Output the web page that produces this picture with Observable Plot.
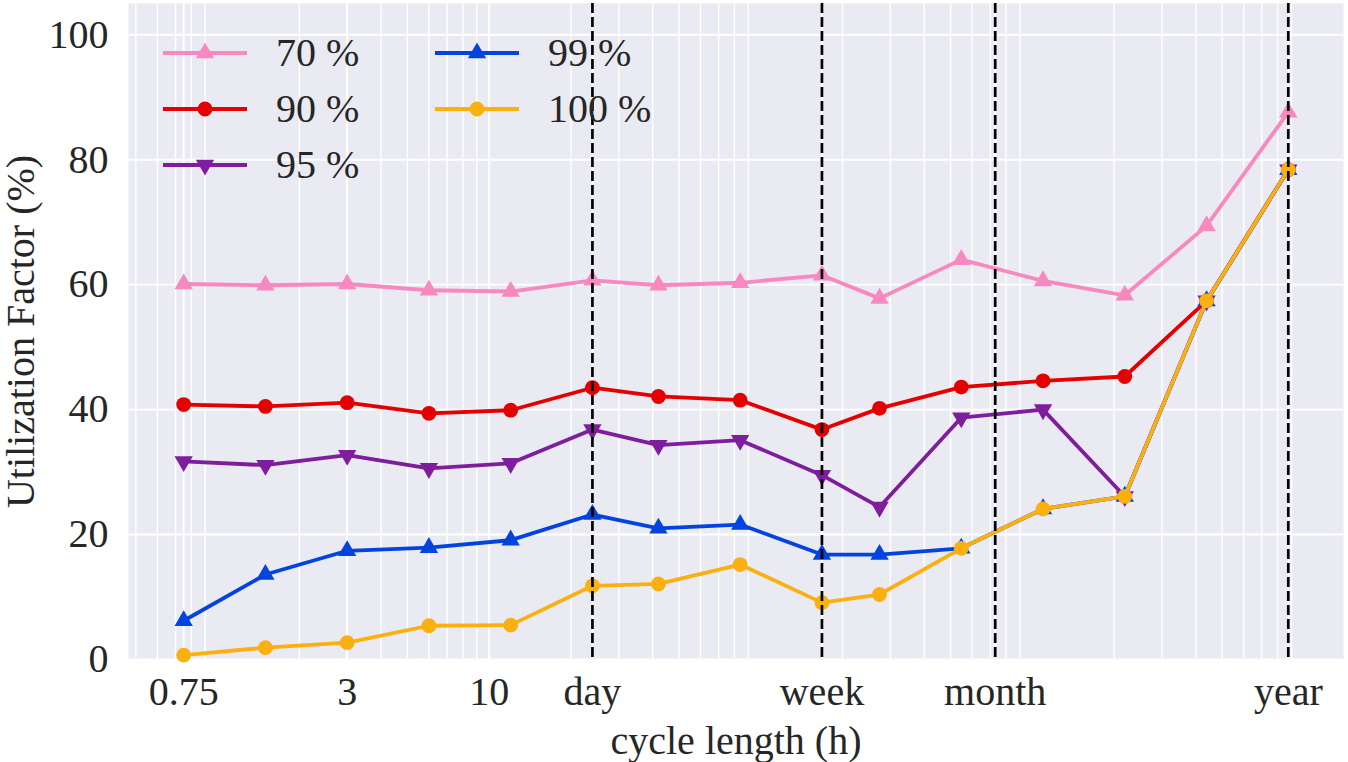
<!DOCTYPE html>
<html>
<head>
<meta charset="utf-8">
<script src="https://cdn.jsdelivr.net/npm/d3@7"></script>
<script src="https://cdn.jsdelivr.net/npm/@observablehq/plot@0.6"></script>
<style>
  html, body { margin: 0; padding: 0; background: #ffffff; }
  #wrap { position: relative; width: 1348px; height: 762px; font-family: "Liberation Serif", serif; color: #262626; }
  #legend { position: absolute; left: 0; top: 0; }
  .item { position: absolute; display: flex; align-items: center; font-size: 40px; line-height: 1; white-space: nowrap; }
  .item svg { display: block; margin-right: 28px; flex: none; }
</style>
</head>
<body>
<div id="wrap">
  <div id="chart"></div>
  <div id="legend"></div>
</div>
<script>
// Cycle length of each experiment, in hours (0.75 h up to one year)
const cycleHours = [0.75, 1.5, 3, 6, 12, 24, 42, 84, 168, 273.75, 547.5, 1095, 2190, 4380, 8760];

// Utilization factor (%) per target level
const util70  = [60.1, 59.9, 60.1, 59.1, 58.9, 60.7, 59.9, 60.3, 61.5, 57.8, 64.0, 60.6, 58.3, 69.4, 87.6];
const util90  = [40.8, 40.5, 41.1, 39.4, 39.9, 43.5, 42.1, 41.5, 36.8, 40.2, 43.6, 44.6, 45.3, 57.4, 78.4];
const util95  = [31.7, 31.1, 32.7, 30.6, 31.4, 36.8, 34.3, 35.1, 29.5, 24.4, 38.7, 40.0, 26.1, 57.4, 78.4];
const util99  = [6.2, 13.6, 17.4, 17.9, 19.1, 23.2, 21.0, 21.6, 16.8, 16.8, 17.8, 24.1, 26.1, 57.4, 78.4];
const util100 = [0.7, 1.9, 2.7, 5.4, 5.5, 11.8, 12.1, 15.2, 9.1, 10.4, 17.8, 24.1, 26.1, 57.4, 78.4];

// Named x ticks and the calendar periods marked with dashed lines
const tickHours  = [0.75, 3, 10, 24, 168, 730, 8760];
const tickLabels = ["0.75", "3", "10", "day", "week", "month", "year"];
const periodHours = [24, 168, 730, 8760];
const yTicks = [0, 20, 40, 60, 80, 100];

const seriesNames = ["70 %", "90 %", "95 %", "99 %", "100 %"];
const seriesValues = [util70, util90, util95, util99, util100];
const seriesColors = ["#f788c0", "#e50000", "#7e1e9c", "#0343df", "#fbb012"];

// Triangle pointing downwards (mirror of d3.symbolTriangle)
const sqrt3 = Math.sqrt(3);
const triangleDown = {
  draw(context, size) {
    const y = Math.sqrt(size / (sqrt3 * 3));
    context.moveTo(0, y * 2);
    context.lineTo(-sqrt3 * y, -y);
    context.lineTo(sqrt3 * y, -y);
    context.closePath();
  }
};
const seriesSymbols = ["triangle", "circle", triangleDown, "triangle", "circle"];
const seriesRadius = [6.8, 7.4, 6.8, 6.8, 7.4];

const xDomain = [0.4698, 13990];

// Minor log gridlines (2..9 of each decade)
const minorGrid = d3.scaleLog().domain(xDomain).ticks()
  .filter(v => Math.abs(Math.log10(v) - Math.round(Math.log10(v))) > 1e-9);

const marks = [
  Plot.frame({fill: "#eaeaf2", stroke: "none"}),
  Plot.ruleX(minorGrid, {stroke: "#ffffff", strokeWidth: 1.4}),
  Plot.ruleX(tickHours, {stroke: "#ffffff", strokeWidth: 1.9}),
  Plot.ruleY(yTicks, {stroke: "#ffffff", strokeWidth: 1.9})
];

seriesValues.forEach((vals, k) => {
  const rows = cycleHours.map((h, i) => ({h, v: vals[i]}));
  marks.push(Plot.line(rows, {x: "h", y: "v", stroke: seriesColors[k], strokeWidth: 3.8}));
  marks.push(Plot.dot(rows, {x: "h", y: "v", fill: seriesColors[k], stroke: "none",
    symbol: seriesSymbols[k], r: seriesRadius[k]}));
});

marks.push(Plot.ruleX(periodHours, {stroke: "#000000", strokeWidth: 2.7, strokeDasharray: "10,4"}));

// x tick labels (named periods) below the panel
marks.push(Plot.text(tickHours, {
  x: d => d, text: (d, i) => tickLabels[i],
  frameAnchor: "bottom", lineAnchor: "top", dy: 17, fontSize: 40, fill: "#262626"
}));
marks.push(Plot.axisX({ticks: [], label: "cycle length (h)", labelAnchor: "center", labelOffset: 94, labelArrow: "none"}));
marks.push(Plot.axisY({
  ticks: yTicks, tickSize: 0, tickPadding: 20,
  label: "Utilization Factor (%)", labelAnchor: "center", labelOffset: 123, labelArrow: "none"
}));

const chart = Plot.plot({
  width: 1348,
  height: 762,
  marginLeft: 128,
  marginRight: 5,
  marginTop: 3,
  marginBottom: 103,
  style: {fontFamily: "'Liberation Serif', serif", fontSize: "40px", color: "#262626", background: "#ffffff", overflow: "visible"},
  x: {type: "log", domain: xDomain},
  y: {domain: [0, 105]},
  marks
});
document.getElementById("chart").appendChild(chart);

// Two-column legend in the upper left of the panel
const legend = d3.select("#legend");
const legendSlots = [[163, 53], [163, 109], [163, 165], [435, 53], [435, 109]];
seriesNames.forEach((name, k) => {
  const [lx, ly] = legendSlots[k];
  const item = legend.append("div").attr("class", "item")
    .style("left", lx + "px").style("top", (ly - 20) + "px").style("height", "40px");
  const svg = item.append("svg").attr("width", 85).attr("height", 40);
  svg.append("line").attr("x1", 0).attr("x2", 84).attr("y1", 20).attr("y2", 20)
    .attr("stroke", seriesColors[k]).attr("stroke-width", 3.8);
  const r = seriesRadius[k];
  const sym = typeof seriesSymbols[k] === "string"
    ? (seriesSymbols[k] === "circle" ? d3.symbolCircle : d3.symbolTriangle)
    : seriesSymbols[k];
  svg.append("path").attr("transform", "translate(42,20)")
    .attr("d", d3.symbol(sym, Math.PI * r * r)())
    .attr("fill", seriesColors[k]);
  item.append("span").text(name);
});
</script>
</body>
</html>
